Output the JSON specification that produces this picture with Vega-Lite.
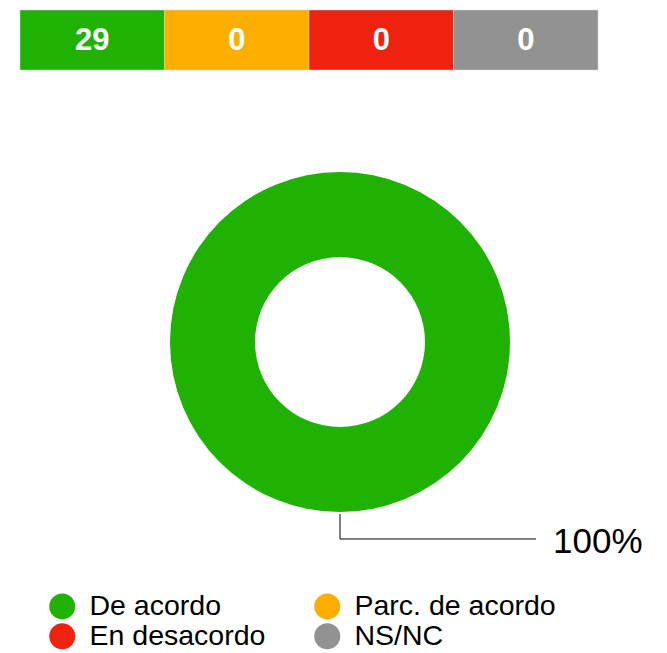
{
  "$schema": "https://vega.github.io/schema/vega-lite/v6.json",
  "padding": {"left": 19, "top": 9, "right": 0, "bottom": 0},
  "autosize": {"type": "pad"},
  "background": "white",
  "config": {"view": {"stroke": null}, "font": "Liberation Sans", "concat": {"spacing": 31}},
  "data": {"values": [
    {"categoria": "De acordo", "n": 29},
    {"categoria": "Parc. de acordo", "n": 0},
    {"categoria": "En desacordo", "n": 0},
    {"categoria": "NS/NC", "n": 0}
  ]},
  "vconcat": [
    {
      "width": 578,
      "height": 60,
      "encoding": {
        "x": {"field": "categoria", "type": "nominal", "sort": ["De acordo", "Parc. de acordo", "En desacordo", "NS/NC"], "scale": {"paddingInner": 0, "paddingOuter": 0}, "axis": null}
      },
      "layer": [
        {
          "mark": {"type": "rect", "stroke": "#d6d6d6", "strokeWidth": 0.5},
          "encoding": {
            "color": {
              "field": "categoria", "type": "nominal",
              "scale": {"domain": ["De acordo", "Parc. de acordo", "En desacordo", "NS/NC"], "range": ["#1fb202", "#fdaf00", "#ef220f", "#929292"]},
              "legend": {
                "orient": "none", "legendX": 28, "legendY": 582, "columns": 2, "direction": "horizontal",
                "title": null, "symbolType": "circle", "symbolSize": 676, "symbolStrokeWidth": 0, "symbolOpacity": 1,
                "labelFontSize": 28.5, "labelFont": "Liberation Sans", "labelColor": "black", "labelOffset": 13,
                "columnPadding": 47, "rowPadding": 1, "labelLimit": 0
              }
            }
          }
        },
        {
          "mark": {"type": "text", "color": "white", "fontSize": 31, "fontWeight": "bold", "baseline": "middle", "align": "center", "dy": 1},
          "encoding": {"text": {"field": "n", "type": "quantitative"}}
        }
      ]
    },
    {
      "width": 640,
      "height": 480,
      "layer": [
        {
          "mark": {"type": "arc", "innerRadius": 85, "outerRadius": 170},
          "encoding": {
            "theta": {"field": "n", "type": "quantitative", "stack": true},
            "color": {"field": "categoria", "type": "nominal"}
          }
        },
        {
          "data": {"values": [{}]},
          "mark": {"type": "rule", "color": "black", "strokeWidth": 1},
          "encoding": {
            "x": {"datum": 0, "type": "quantitative", "scale": {"domain": [-1.882, 1.882], "nice": false, "zero": false}, "axis": null},
            "y": {"datum": -1.012, "type": "quantitative", "scale": {"domain": [-1.412, 1.412], "nice": false, "zero": false}, "axis": null},
            "y2": {"datum": -1.159}
          }
        },
        {
          "data": {"values": [{}]},
          "mark": {"type": "rule", "color": "black", "strokeWidth": 1},
          "encoding": {
            "x": {"datum": 0, "type": "quantitative"},
            "x2": {"datum": 1.153},
            "y": {"datum": -1.159, "type": "quantitative"}
          }
        },
        {
          "data": {"values": [{"label": "100%"}]},
          "mark": {"type": "text", "color": "black", "fontSize": 35, "align": "left", "baseline": "middle"},
          "encoding": {
            "x": {"datum": 1.253, "type": "quantitative"},
            "y": {"datum": -1.176, "type": "quantitative"},
            "text": {"field": "label", "type": "nominal"}
          }
        }
      ]
    }
  ]
}
